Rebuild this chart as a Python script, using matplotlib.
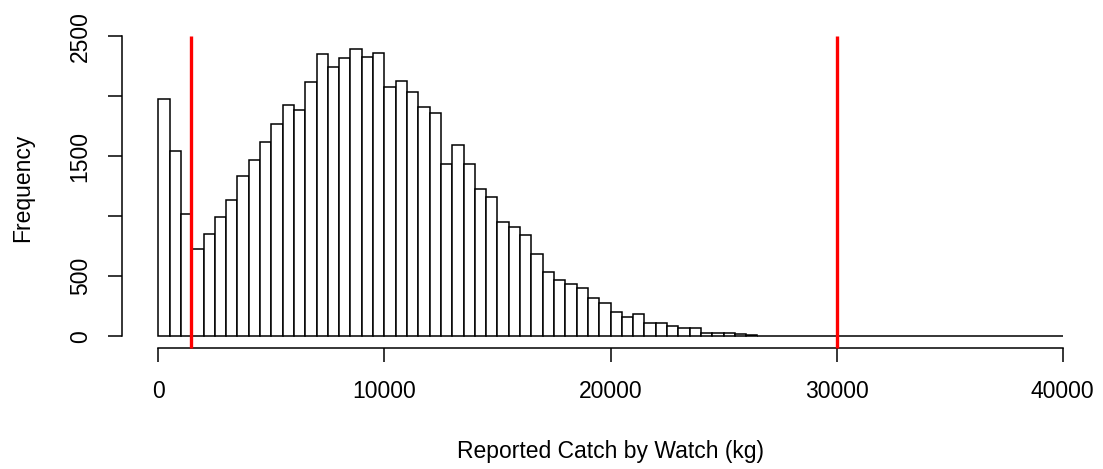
import numpy as np
import matplotlib
matplotlib.use("Agg")
import matplotlib.pyplot as plt

plt.rcParams["font.family"] = ["Liberation Sans", "DejaVu Sans"]

# Histogram of reported catch per watch, 500 kg bins from 0 to 40000 kg
bin_width = 500
bin_start = 0
bin_end = 40000
counts_observed = [
    1980, 1547, 1017, 730, 850, 997, 1133, 1336, 1467, 1617,
    1767, 1930, 1886, 2119, 2353, 2247, 2317, 2394, 2330, 2364,
    2080, 2130, 2033, 1913, 1863, 1433, 1597, 1433, 1230, 1163,
    950, 913, 848, 683, 536, 469, 433, 400, 317, 280,
    200, 163, 183, 113, 113, 83, 67, 67, 30, 30,
    30, 15, 12,
]
# reference thresholds (kg)
thresholds = [1450, 30000]

x_ticks = [0, 10000, 20000, 30000, 40000]
x_ticklabels = ["0", "10000", "20000", "30000", "40000"]
y_ticks = [0, 500, 1000, 1500, 2000, 2500]
y_ticklabels = ["0", "500", "", "1500", "", "2500"]

xlabel = "Reported Catch by Watch (kg)"
ylabel = "Frequency"

edges = np.arange(bin_start, bin_end, bin_width)
counts = np.zeros(len(edges))
counts[:len(counts_observed)] = counts_observed

W, H = 1103, 469
fig = plt.figure(figsize=(W / 100, H / 100), dpi=100)
ax = fig.add_axes([122.1 / W, (H - 348.3) / H, (1098.9 - 122.1) / W, (348.3 - 24.3) / H])

ax.bar(edges, counts, width=bin_width, align="edge", facecolor="white",
       edgecolor="black", linewidth=1.1)

for t in thresholds:
    ax.plot([t, t], [-100, 2505], color="#ff0000", linewidth=2.4,
            solid_capstyle="butt", zorder=5, clip_on=False)

ax.set_xlim(-1600, 41600)
ax.set_ylim(-100, 2600)

for side in ("top", "right"):
    ax.spines[side].set_visible(False)
ax.spines["left"].set_bounds(0, 2500)
ax.spines["bottom"].set_bounds(0, 40000)
for side in ("left", "bottom"):
    ax.spines[side].set_linewidth(1.1)

ax.set_xticks(x_ticks)
ax.set_xticklabels(x_ticklabels)
ax.set_yticks(y_ticks)
ax.set_yticklabels(y_ticklabels, rotation=90, va="center")
ax.tick_params(axis="both", direction="out", length=10.4, width=1.1,
               labelsize=16.5, colors="black")
ax.tick_params(axis="x", pad=12.5)
ax.tick_params(axis="y", pad=11.5)

fig.text(610.5 / W, 1 - 451.7 / H, xlabel, ha="center", va="center", fontsize=16.5)
fig.text(22.5 / W, 1 - 188.0 / H, ylabel, ha="center", va="center",
         rotation=90, fontsize=16.5)

fig.savefig("out.png", dpi=100)
